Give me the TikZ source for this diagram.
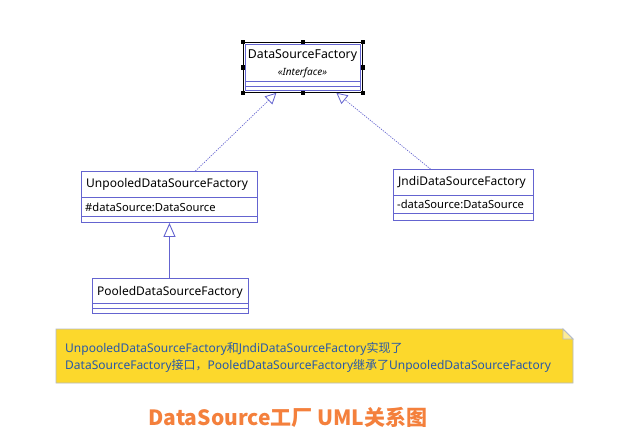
\documentclass[tikz,border=0pt]{standalone}
\usepackage{fontspec}
\setmainfont{Noto Sans}
\newfontfamily\cjk{Noto Sans CJK SC}
\usetikzlibrary{arrows.meta}
\definecolor{umlblue}{RGB}{100,100,208}
\definecolor{noteyellow}{RGB}{252,216,44}
\definecolor{notefold}{RGB}{253,236,150}
\definecolor{noteborder}{RGB}{180,186,200}
\definecolor{notetext}{RGB}{40,88,168}
\definecolor{titleorange}{RGB}{244,128,60}
\begin{document}
\begin{tikzpicture}[x=1pt,y=-1pt,
  umlbox/.style={draw=umlblue, line width=0.9pt, fill=white, anchor=north west, inner sep=0pt},
  umltext/.style={font=\fontsize{12}{14}\selectfont, inner sep=0pt, anchor=west},
  attrtext/.style={font=\fontsize{11.2}{14}\selectfont, inner sep=0pt, anchor=west},
  divider/.style={draw=umlblue, line width=0.9pt},
  selframe/.style={draw=black, line width=0.8pt, anchor=north west, inner sep=0pt},
  handle/.style={fill=black, minimum size=4.5pt, inner sep=0pt},
  realize/.style={draw=umlblue, line width=0.7pt, dash pattern=on 1.2pt off 1.2pt,
    -{Triangle[length=11pt,width=11pt,fill=white,line width=0.8pt]}},
  generalize/.style={draw=umlblue, line width=0.9pt,
    -{Triangle[length=14pt,width=12pt,fill=white,line width=0.9pt]}}
]
\useasboundingbox[fill=white] (0,0) rectangle (643,440);

% DataSourceFactory (interface, selected)
\node[selframe, minimum width=119pt, minimum height=50pt] (dsfsel) at (243,42) {};
\node[umlbox, minimum width=115pt, minimum height=46pt] (dsf) at (245,44) {};
\node[font=\fontsize{12.3}{14}\selectfont, inner sep=0pt] (dsfname) at (302.5,56) {DataSourceFactory};
\node[font=\fontsize{10}{12}\selectfont\itshape, inner sep=0pt] (dsfstereo) at (302.5,73) {«Interface»};
\draw[divider] (245,81.5) -- (360,81.5);
\draw[divider] (245,86) -- (360,86);
\foreach \n/\p in {h1/dsfsel.north west, h2/dsfsel.north, h3/dsfsel.north east,
  h4/dsfsel.west, h5/dsfsel.east, h6/dsfsel.south west, h7/dsfsel.south, h8/dsfsel.south east}
  \node[handle] (\n) at (\p) {};

% UnpooledDataSourceFactory
\node[umlbox, minimum width=176pt, minimum height=51pt] (unp) at (81,171) {};
\node[umltext] (unpname) at (86,184) {UnpooledDataSourceFactory};
\draw[divider] (81,197.5) -- (257,197.5);
\node[attrtext] (unpattr) at (85,207) {\#dataSource:DataSource};
\draw[divider] (81,216.5) -- (257,216.5);

% JndiDataSourceFactory
\node[umlbox, minimum width=140pt, minimum height=51pt] (jndi) at (393,169) {};
\node[umltext] (jndiname) at (398,182) {JndiDataSourceFactory};
\draw[divider] (393,195.5) -- (533,195.5);
\node[attrtext] (jndiattr) at (397,204) {-dataSource:DataSource};
\draw[divider] (393,213.5) -- (533,213.5);

% PooledDataSourceFactory
\node[umlbox, minimum width=156pt, minimum height=35pt] (pool) at (92,278) {};
\node[umltext] (poolname) at (97,292) {PooledDataSourceFactory};
\draw[divider] (92,303.5) -- (248,303.5);
\draw[divider] (92,308.5) -- (248,308.5);

% connectors
\draw[realize] ([xshift=26pt]unp.north) -- ([xshift=-26.5pt]dsfsel.south);
\draw[realize] ([xshift=-33pt]jndi.north) -- ([xshift=33.5pt]dsfsel.south);
\draw[generalize] ([xshift=-1pt]pool.north) -- ([xshift=-1pt]pool.north |- unp.south);

% note
\path[fill=noteyellow, draw=noteborder, line width=0.9pt]
  (56,329) -- (563,329) -- (573,339) -- (573,383) -- (56,383) -- cycle;
\path[fill=notefold, draw=noteborder, line width=0.9pt]
  (563,329) -- (563,339) -- (573,339) -- cycle;
\node[anchor=west, align=left, inner sep=0pt, text=notetext,
  font=\fontsize{12}{17}\selectfont] (note) at (65,357.5)
  {UnpooledDataSourceFactory{\cjk 和}JndiDataSourceFactory{\cjk 实现了}\\
   DataSourceFactory{\cjk 接口，}PooledDataSourceFactory{\cjk 继承了}UnpooledDataSourceFactory};

% title
\node[font=\cjk\bfseries\fontsize{21}{25}\selectfont, text=titleorange, inner sep=0pt] (title)
  at (288,417) {DataSource工厂 UML关系图};
\end{tikzpicture}
\end{document}
